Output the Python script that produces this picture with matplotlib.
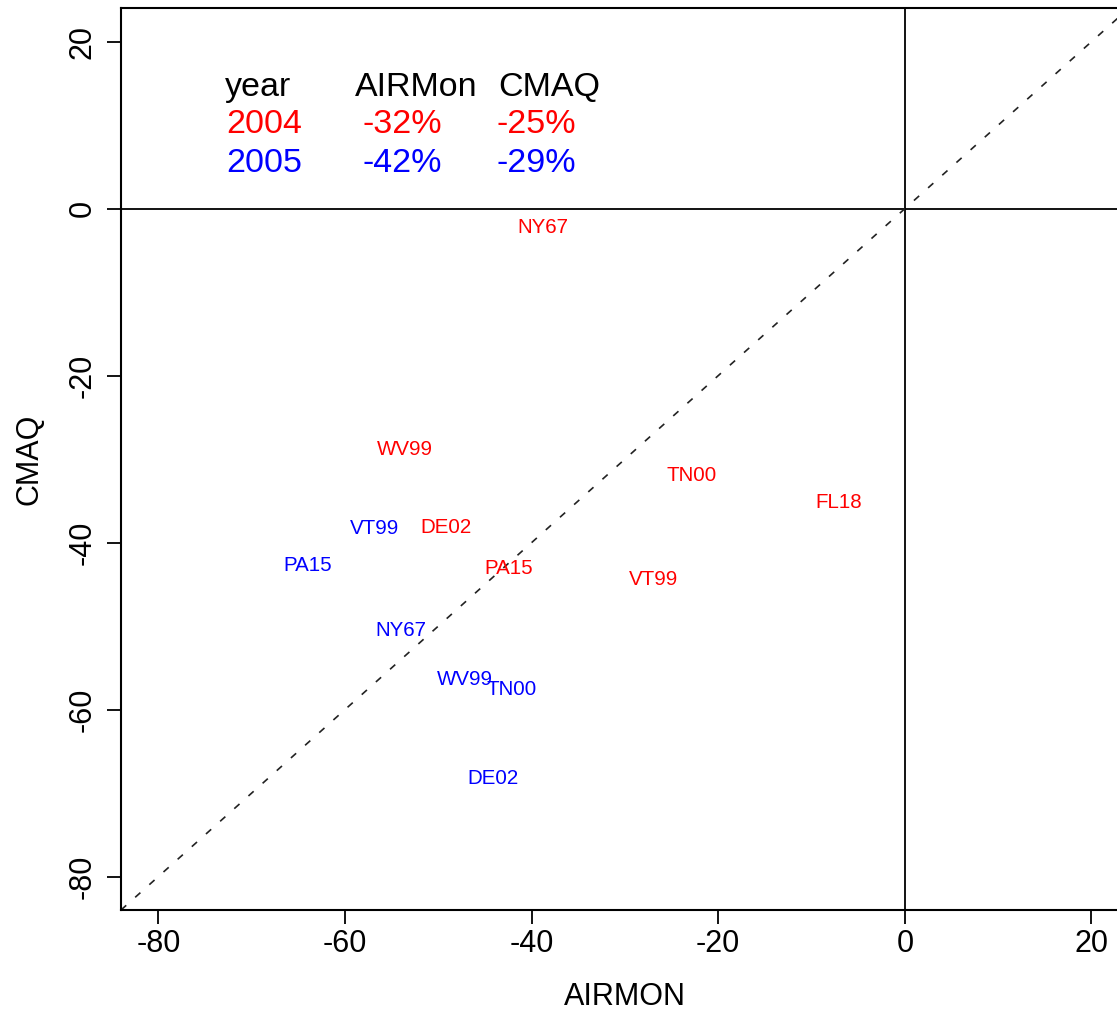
import matplotlib
matplotlib.use("Agg")
import matplotlib.pyplot as plt

# ---- data ----
sites = ["NY67", "WV99", "TN00", "FL18", "DE02", "PA15", "VT99"]
airmon_2004 = [-38.8, -53.6, -22.9, -7.1, -49.2, -42.5, -26.9]
cmaq_2004 = [-2.3, -28.9, -31.9, -35.2, -38.2, -43.1, -44.4]

sites_2005 = ["VT99", "PA15", "NY67", "WV99", "TN00", "DE02"]
airmon_2005 = [-56.8, -64.0, -54.0, -47.1, -42.1, -44.1]
cmaq_2005 = [-38.3, -42.7, -50.5, -56.4, -57.6, -68.2]

years = ["2004", "2005"]
airmon_change = [-32, -42]
cmaq_change = [-25, -29]
header = ["year", "AIRMon", "CMAQ"]

xticks = [-80, -60, -40, -20, 0, 20]
yticks = [20, 0, -20, -40, -60, -80]

# ---- figure ----
W, H, DPI = 1117, 1013, 100
fig = plt.figure(figsize=(W / DPI, H / DPI), dpi=DPI)
plt.rcParams["font.family"] = ["Liberation Sans", "DejaVu Sans"]
ax = fig.add_axes([0.10833, 0.10168, 0.90224, 0.89013])
ax.set_xlim(-84, 24)
ax.set_ylim(-84, 24)

for s in ax.spines.values():
    s.set_linewidth(1.5)
    s.set_color("black")

ax.axhline(0, color="black", lw=1.3)
ax.axvline(0, color="black", lw=1.3)
ax.plot([-84, 24], [-84, 24], color="#222222", lw=1.2,
        linestyle=(0, (4.2, 7.2)))

for s, x, y in zip(sites, airmon_2004, cmaq_2004):
    ax.text(x, y, s, color="red", fontsize=14.8, ha="center", va="center")
for s, x, y in zip(sites_2005, airmon_2005, cmaq_2005):
    ax.text(x, y, s, color="blue", fontsize=14.8, ha="center", va="center")

# legend-like table
colors = ["red", "blue"]
col_x_head = [0.1032, 0.2322, 0.3741]
col_x_val = [0.1042, 0.2398, 0.3721]
row_y = [0.9127, 0.8709, 0.8279]
for h, cx in zip(header, col_x_head):
    ax.text(cx, row_y[0], h, transform=ax.transAxes, fontsize=24.5,
            ha="left", va="center", color="black")
for i, (yr, a, c) in enumerate(zip(years, airmon_change, cmaq_change)):
    vals = [yr, f"{a}%", f"{c}%"]
    for v, cx in zip(vals, col_x_val):
        ax.text(cx, row_y[i + 1], v, transform=ax.transAxes, fontsize=24.5,
                ha="left", va="center", color=colors[i])

ax.set_xticks(xticks)
ax.set_yticks(yticks)
ax.set_xticklabels([str(t) for t in xticks])
ax.set_yticklabels([str(t) for t in yticks], rotation=90, va="center")
ax.tick_params(axis="both", direction="out", length=10, width=1.3,
               labelsize=22, color="black")
ax.tick_params(axis="x", pad=4)
ax.tick_params(axis="y", pad=7)

ax.set_xlabel("AIRMON", fontsize=22, va="center")
ax.xaxis.set_label_coords(0.5, -0.0965)
ax.set_ylabel("CMAQ", fontsize=22, va="center")
ax.yaxis.set_label_coords(-0.0908, 0.5)

fig.savefig("out.png", dpi=DPI)
